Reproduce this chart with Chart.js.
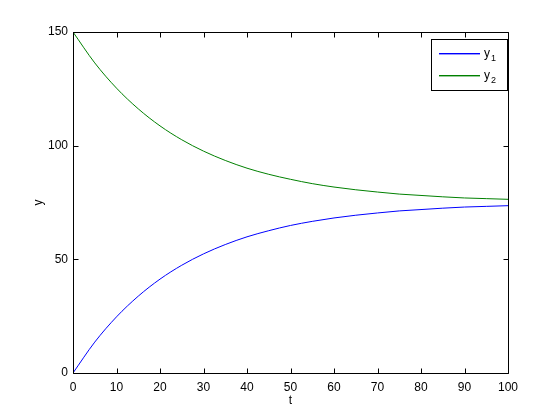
<!DOCTYPE html>
<html>
<head>
<meta charset="utf-8">
<script src="https://cdn.jsdelivr.net/npm/chart.js@4"></script>
<style>
  html, body { margin: 0; padding: 0; background: #fff; }
  #wrap { width: 560px; height: 420px; }
</style>
</head>
<body>
<div id="wrap"><canvas id="chart" width="560" height="420"></canvas></div>
<script>
const tValues = [0, 5, 10, 15, 20, 25, 30, 35, 40, 45, 50, 55, 60, 65, 70, 75, 80, 85, 90, 95, 100];
const y1Values = [0, 13.6, 24.7, 33.8, 41.3, 47.4, 52.4, 56.5, 59.9, 62.6, 64.9, 66.7, 68.2, 69.4, 70.4, 71.3, 71.9, 72.5, 73.0, 73.3, 73.6];
const y2Values = [150, 136.4, 125.3, 116.2, 108.7, 102.6, 97.6, 93.5, 90.1, 87.4, 85.2, 83.3, 81.8, 80.6, 79.6, 78.7, 78.1, 77.5, 77.0, 76.7, 76.4];
const seriesLabels = ["y1", "y2"];
const seriesColors = ["#0000ff", "#008000"];
const xTitle = "t";
const yTitle = "y";

const FONT = "'Liberation Sans', Arial, Helvetica, sans-serif";

function toPoints(ys) {
  return ys.map((v, i) => ({ x: tValues[i], y: v }));
}

// box around the axes + inward tick marks on all four sides, plus the legend
const boxPlugin = {
  id: "matlabBox",
  afterDraw(chart) {
    const ctx = chart.ctx;
    const a = chart.chartArea;
    const xs = chart.scales.x;
    const ys = chart.scales.y;
    const L = Math.round(a.left) + 0.5, R = Math.round(a.right) + 0.5;
    const T = Math.round(a.top) + 0.5, B = Math.round(a.bottom) + 0.5;
    ctx.save();
    ctx.strokeStyle = "#000";
    ctx.lineWidth = 1;
    ctx.beginPath();
    ctx.rect(L, T, R - L, B - T);
    const len = 5;
    xs.ticks.forEach((tk) => {
      const px = Math.round(xs.getPixelForValue(tk.value)) + 0.5;
      ctx.moveTo(px, B); ctx.lineTo(px, B - len);
      ctx.moveTo(px, T); ctx.lineTo(px, T + len);
    });
    ys.ticks.forEach((tk) => {
      const py = Math.round(ys.getPixelForValue(tk.value)) + 0.5;
      ctx.moveTo(L, py); ctx.lineTo(L + len, py);
      ctx.moveTo(R, py); ctx.lineTo(R - len, py);
    });
    ctx.stroke();

    // legend
    const lx = 431.5, ly = 39.5, lw = 76, lh = 51;
    ctx.fillStyle = "#fff";
    ctx.fillRect(lx, ly, lw, lh);
    ctx.strokeRect(lx, ly, lw, lh);
    chart.data.datasets.forEach((ds, i) => {
      const yy = 53 + i * 22;
      ctx.fillStyle = ds.borderColor;
      ctx.fillRect(439, yy, 41, 1.4);
      ctx.fillStyle = "#000";
      ctx.textBaseline = "alphabetic";
      ctx.textAlign = "left";
      ctx.font = "12px " + FONT;
      ctx.fillText(ds.label.charAt(0), 484, yy + 4);
      ctx.font = "9px " + FONT;
      ctx.fillText(ds.label.slice(1), 491, yy + 8);
    });
    ctx.restore();
  }
};

new Chart(document.getElementById("chart"), {
  type: "line",
  data: {
    datasets: [
      {
        label: seriesLabels[0],
        data: toPoints(y1Values),
        borderColor: seriesColors[0],
        borderWidth: 1,
        pointRadius: 0,
        cubicInterpolationMode: "monotone",
        fill: false,
      },
      {
        label: seriesLabels[1],
        data: toPoints(y2Values),
        borderColor: seriesColors[1],
        borderWidth: 1,
        pointRadius: 0,
        cubicInterpolationMode: "monotone",
        fill: false,
      },
    ],
  },
  options: {
    responsive: false,
    animation: false,
    layout: { padding: { left: 31, right: 52, top: 32, bottom: 12 } },
    plugins: {
      legend: { display: false },
      tooltip: { enabled: false },
    },
    scales: {
      x: {
        type: "linear",
        min: 0,
        max: 100,
        grid: { display: false, drawTicks: false },
        border: { display: false },
        ticks: { stepSize: 10, padding: 7, color: "#000", font: { family: FONT, size: 12 } },
        title: { display: true, text: xTitle, color: "#000", font: { family: FONT, size: 12 }, padding: 0 },
        afterFit(scale) { scale.height = 35; },
      },
      y: {
        type: "linear",
        min: 0,
        max: 150,
        grid: { display: false, drawTicks: false },
        border: { display: false },
        ticks: { stepSize: 50, padding: 5, color: "#000", font: { family: FONT, size: 12 } },
        title: { display: true, text: yTitle, color: "#000", font: { family: FONT, size: 12 }, padding: 0 },
        afterFit(scale) { scale.width = 42; },
      },
    },
  },
  plugins: [boxPlugin],
});
</script>
</body>
</html>
